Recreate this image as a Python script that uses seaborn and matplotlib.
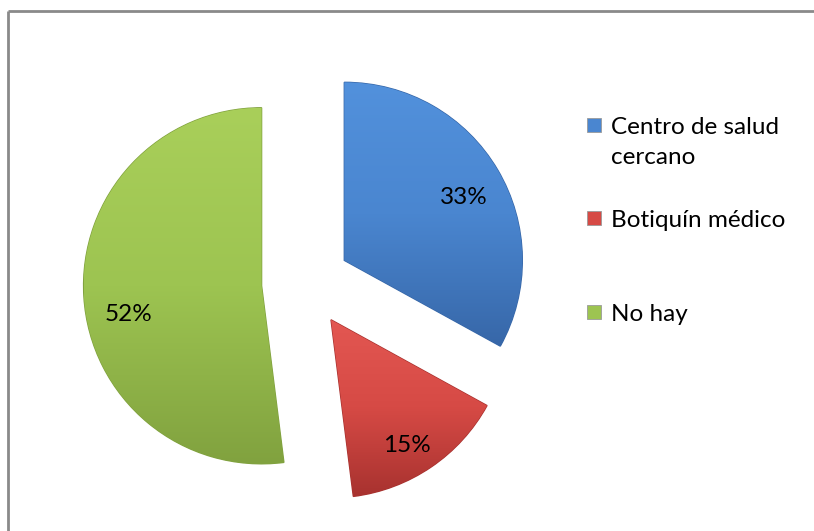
import matplotlib
matplotlib.use("Agg")
import matplotlib.pyplot as plt
from matplotlib.patches import Rectangle
from matplotlib.colors import LinearSegmentedColormap
import numpy as np
import seaborn as sns

categories = ["Centro de salud\ncercano", "Botiquín médico", "No hay"]
shares = [33, 15, 52]
base_colors = ["#4A86D0", "#D64A45", "#9DC451"]
dark_colors = ["#3767A8", "#A8322F", "#81A23F"]
light_colors = ["#5291DC", "#E35752", "#A9CF5A"]

sns.set_theme(style="white")
plt.rcParams["font.family"] = ["Lato", "DejaVu Sans"]

W, H, DPI = 814, 531, 100
fig = plt.figure(figsize=(W / DPI, H / DPI), dpi=DPI)
fig.patch.set_facecolor("white")
ax = fig.add_axes([0, 0, 1, 1])

# pie centre and radius in pixels
cx, cy, r = 306, 283, 178
xlim = (-cx / r, (W - cx) / r)
ylim = (-(H - cy) / r, cy / r)

wedges, texts, autotexts = ax.pie(
    shares,
    startangle=90,
    counterclock=False,
    explode=[0.25] * len(shares),
    colors=base_colors,
    autopct=lambda p: f"{p:.0f}%",
    pctdistance=0.78,
    wedgeprops=dict(edgecolor="none", linewidth=0),
    textprops=dict(fontsize=17.5, color="black"),
)
ax.set_aspect("auto")
ax.set_xlim(*xlim)
ax.set_ylim(*ylim)
ax.axis("off")

# soft vertical shading inside each slice plus a darker rim
grad = np.linspace(0, 1, 256).reshape(-1, 1)
for w, hi, dk in zip(wedges, light_colors, dark_colors):
    x0, y0, x1, y1 = w.get_path().get_extents(w.get_patch_transform()).extents
    cmap = LinearSegmentedColormap.from_list("shade", [hi, w.get_facecolor(), dk])
    im = ax.imshow(grad, extent=(x0, x1, y0, y1), cmap=cmap, aspect="auto",
                   origin="upper", zorder=w.get_zorder() + 0.1)
    im.set_clip_path(w)
    w.set_edgecolor(dk)
    w.set_linewidth(1.0)

# percentage labels sit a little lower inside their slices
label_shift_px = [(0, -8), (-2, -11), (6, -20)]
for t, (dx, dy) in zip(autotexts, label_shift_px):
    x, y = t.get_position()
    t.set_position((x + dx / r, y + dy / r))
    t.set_zorder(10)
ax.set_xlim(*xlim)
ax.set_ylim(*ylim)

# legend drawn in figure pixels
legend_y = [125, 218, 312]
for label, col, y in zip(categories, base_colors, legend_y):
    sq = Rectangle((587 / W, 1 - (y + 7) / H), 14 / W, 14 / H,
                   transform=fig.transFigure, facecolor=col,
                   edgecolor="#9a9a9a", linewidth=0.6)
    fig.add_artist(sq)
    fig.text(611 / W, 1 - (y - 8) / H, label, fontsize=17.5, va="top",
             ha="left", color="black", linespacing=1.55)

# chart-area frame (top and left edges visible)
fig.add_artist(plt.Line2D([8 / W, 8 / W], [0, 1 - 11 / H],
                          transform=fig.transFigure, color="#8a8a8a", lw=2,
                          solid_capstyle="butt"))
fig.add_artist(plt.Line2D([8 / W, 1], [1 - 11 / H, 1 - 11 / H],
                          transform=fig.transFigure, color="#8a8a8a", lw=2,
                          solid_capstyle="butt"))

fig.savefig("out.png", dpi=DPI, facecolor="white")
